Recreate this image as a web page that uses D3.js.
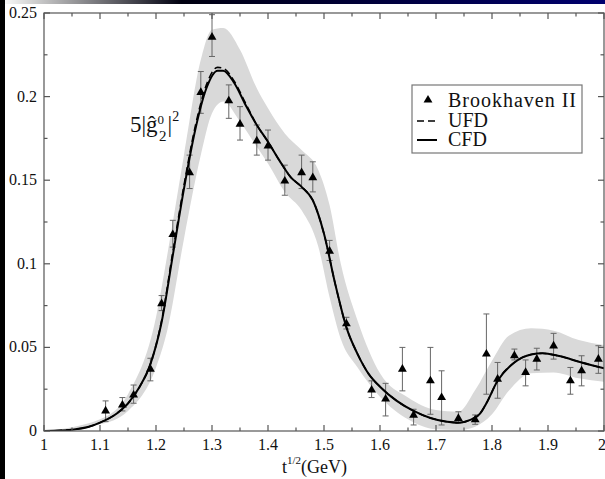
<!DOCTYPE html>
<html><head><meta charset="utf-8">
<script src="https://cdn.jsdelivr.net/npm/d3@7"></script>
<style>html,body{margin:0;padding:0;background:#000;}svg{display:block;}
text{font-family:"Liberation Serif","Tinos","Times New Roman","DejaVu Serif",serif;}</style>
</head><body>
<svg id="c" width="605" height="479"></svg>
<script>
// ---- data ----
const dataX   = [1.11,1.14,1.16,1.19,1.21,1.23,1.26,1.28,1.30,1.33,1.35,1.38,1.40,1.43,1.46,1.48,1.51,1.54,1.585,1.61,1.64,1.66,1.69,1.71,1.74,1.77,1.79,1.81,1.84,1.86,1.88,1.91,1.94,1.96,1.99];
const dataY   = [0.0125,0.016,0.022,0.0375,0.0766,0.118,0.155,0.203,0.236,0.198,0.184,0.174,0.171,0.150,0.155,0.152,0.108,0.0646,0.025,0.0196,0.0375,0.010,0.0305,0.0205,0.008,0.0072,0.0465,0.0315,0.0455,0.0355,0.0435,0.0514,0.0305,0.0365,0.0435];
const dataLo  = [0.0056,0.012,0.0166,0.030,0.072,0.110,0.145,0.190,0.224,0.187,0.174,0.165,0.162,0.141,0.145,0.143,0.102,0.061,0.020,0.009,0.024,0.0036,0.010,0.0036,0.0046,0.004,0.022,0.0196,0.0425,0.027,0.0365,0.043,0.022,0.027,0.0345];
const dataHi  = [0.018,0.020,0.0275,0.0435,0.081,0.126,0.165,0.215,0.249,0.207,0.194,0.183,0.180,0.159,0.165,0.161,0.114,0.068,0.030,0.0285,0.050,0.013,0.050,0.036,0.0115,0.0096,0.070,0.041,0.049,0.0425,0.0495,0.0584,0.038,0.045,0.051];

const cfdX = [1.00,1.05,1.08,1.10,1.13,1.15,1.17,1.19,1.21,1.23,1.25,1.27,1.29,1.31,1.32,1.34,1.36,1.38,1.40,1.42,1.44,1.46,1.48,1.50,1.52,1.54,1.56,1.58,1.60,1.63,1.66,1.69,1.72,1.74,1.76,1.78,1.79,1.81,1.84,1.87,1.89,1.92,1.96,2.00];
const cfdY = [0.0000,0.0008,0.0025,0.0050,0.0105,0.0165,0.026,0.040,0.065,0.105,0.145,0.180,0.205,0.2155,0.2155,0.208,0.195,0.183,0.173,0.162,0.152,0.146,0.138,0.118,0.088,0.062,0.046,0.034,0.0265,0.018,0.012,0.0078,0.0055,0.005,0.0065,0.011,0.0166,0.030,0.041,0.0458,0.0465,0.0448,0.041,0.0375];
const ufdX = [1.00,1.05,1.08,1.10,1.13,1.15,1.17,1.19,1.21,1.23,1.25,1.27,1.29,1.31,1.32,1.34,1.36,1.38,1.40,1.42,1.44,1.46,1.48,1.50,1.52,1.54,1.56,1.58,1.60,1.63,1.66,1.69,1.72,1.74,1.76,1.78,1.79,1.81,1.84,1.87,1.89,1.92,1.96,2.00];
const ufdY = [0.0000,0.0008,0.0025,0.0050,0.0105,0.0165,0.026,0.040,0.066,0.107,0.147,0.182,0.207,0.2175,0.217,0.209,0.196,0.183,0.173,0.162,0.152,0.146,0.138,0.118,0.088,0.062,0.046,0.034,0.0265,0.018,0.012,0.0078,0.0055,0.005,0.0065,0.011,0.0166,0.030,0.041,0.0458,0.0465,0.0448,0.041,0.0375];

const bandX  = [1.00,1.10,1.15,1.20,1.22,1.25,1.28,1.30,1.32,1.35,1.38,1.40,1.43,1.46,1.49,1.51,1.53,1.56,1.60,1.65,1.70,1.74,1.77,1.80,1.83,1.87,1.91,1.955,2.00];
const bandHi = [0,0.007,0.022,0.068,0.105,0.165,0.222,0.240,0.241,0.228,0.205,0.193,0.178,0.168,0.156,0.135,0.100,0.066,0.0345,0.020,0.0125,0.0115,0.0245,0.042,0.057,0.0614,0.060,0.0544,0.0514];
const bandLo = [0,0.004,0.012,0.038,0.060,0.115,0.165,0.190,0.197,0.185,0.170,0.160,0.143,0.132,0.110,0.080,0.055,0.038,0.0205,0.007,0.001,0.0006,0.0026,0.010,0.024,0.0345,0.035,0.0315,0.0295];

const xTicks = [1,1.1,1.2,1.3,1.4,1.5,1.6,1.7,1.8,1.9,2];
const xTickLabels = ["1","1.1","1.2","1.3","1.4","1.5","1.6","1.7","1.8","1.9","2"];
const yTicks = [0,0.05,0.1,0.15,0.2,0.25];
const yTickLabels = ["0","0.05","0.1","0.15","0.2","0.25"];
const legendLabels = ["Brookhaven II","UFD","CFD"];

// ---- drawing ----
const svg = d3.select("#c");
const W = 605, H = 479;
const defs = svg.append("defs");
const grad = defs.append("linearGradient").attr("id","topband").attr("x1","0").attr("x2","1");
grad.append("stop").attr("offset","0").attr("stop-color","#000").attr("stop-opacity",0);
grad.append("stop").attr("offset","0.3").attr("stop-color","#000010").attr("stop-opacity",1);
grad.append("stop").attr("offset","1").attr("stop-color","#00006e");

svg.append("rect").attr("width",W).attr("height",H).attr("fill","#000");
svg.append("rect").attr("x",5).attr("y",0).attr("width",W-5).attr("height",H).attr("fill","#fff");
svg.append("rect").attr("x",0).attr("y",0).attr("width",W).attr("height",4).attr("fill","url(#topband)");

const L = 44, R = 604, T = 13, B = 431;
const x = d3.scaleLinear().domain([1,2]).range([L,R]);
const y = d3.scaleLinear().domain([0,0.25]).range([B,T]);

const clip = defs.append("clipPath").attr("id","plot");
clip.append("rect").attr("x",L).attr("y",T).attr("width",R-L).attr("height",B-T);

const g = svg.append("g").attr("clip-path","url(#plot)");

// band
const band = bandX.map((v,i)=>({x:v,lo:bandLo[i],hi:bandHi[i]}));
g.append("path").datum(band)
  .attr("d", d3.area().curve(d3.curveMonotoneX).x(d=>x(d.x)).y0(d=>y(d.lo)).y1(d=>y(d.hi)))
  .attr("fill","#d9d9d9");

// error bars
const pts = dataX.map((v,i)=>({x:v,y:dataY[i],lo:dataLo[i],hi:dataHi[i]}));
const eb = g.append("g").attr("stroke","#666").attr("stroke-width",1).attr("fill","none");
pts.forEach(p=>{
  eb.append("line").attr("x1",x(p.x)).attr("x2",x(p.x)).attr("y1",y(p.lo)).attr("y2",y(p.hi));
  eb.append("line").attr("x1",x(p.x)-3).attr("x2",x(p.x)+3).attr("y1",y(p.lo)).attr("y2",y(p.lo));
  eb.append("line").attr("x1",x(p.x)-3).attr("x2",x(p.x)+3).attr("y1",y(p.hi)).attr("y2",y(p.hi));
});

// curves
const line = d3.line().curve(d3.curveMonotoneX).x(d=>x(d[0])).y(d=>y(d[1]));
g.append("path").datum(ufdX.map((v,i)=>[v,ufdY[i]])).attr("d",line)
  .attr("fill","none").attr("stroke","#000").attr("stroke-width",1.6).attr("stroke-dasharray","7,4");
g.append("path").datum(cfdX.map((v,i)=>[v,cfdY[i]])).attr("d",line)
  .attr("fill","none").attr("stroke","#000").attr("stroke-width",2);

// markers
const tri = d3.symbol().type(d3.symbolTriangle).size(34);
g.selectAll("path.m").data(pts).join("path").attr("class","m")
  .attr("d",tri).attr("transform",d=>`translate(${x(d.x)},${y(d.y)+0.8})`).attr("fill","#000");

// frame
svg.append("rect").attr("x",L).attr("y",T).attr("width",R-L).attr("height",B-T)
  .attr("fill","none").attr("stroke","#555").attr("stroke-width",1.2);

// ticks (inward on all sides)
const tk = svg.append("g").attr("stroke","#555").attr("stroke-width",1.2);
const xMinor = d3.range(0,21).map(i=>1+i*0.05);
xMinor.forEach((v,i)=>{
  const len = i%2===0 ? 6 : 3.5;
  tk.append("line").attr("x1",x(v)).attr("x2",x(v)).attr("y1",B).attr("y2",B-len);
  tk.append("line").attr("x1",x(v)).attr("x2",x(v)).attr("y1",T).attr("y2",T+len);
});
const yMinor = d3.range(0,11).map(i=>i*0.025);
yMinor.forEach((v,i)=>{
  const len = i%2===0 ? 6 : 3.5;
  tk.append("line").attr("x1",L).attr("x2",L+len).attr("y1",y(v)).attr("y2",y(v));
  tk.append("line").attr("x1",R).attr("x2",R-len).attr("y1",y(v)).attr("y2",y(v));
});

// tick labels
svg.append("g").selectAll("text").data(xTicks).join("text")
  .attr("x",d=>x(d)).attr("y",450).attr("text-anchor",d=>d===2?"end":"middle")
  .attr("dx",d=>d===2?2:0)
  .attr("font-size",16).attr("fill","#111")
  .text((d,i)=>xTickLabels[i]);
svg.append("g").selectAll("text").data(yTicks).join("text")
  .attr("x",37).attr("y",d=>y(d)+5).attr("text-anchor","end")
  .attr("font-size",16).attr("fill","#111")
  .text((d,i)=>yTickLabels[i]);

// x axis title
const xt = svg.append("text").attr("x",282).attr("y",473).attr("font-size",18).attr("fill","#111");
xt.append("tspan").text("t");
xt.append("tspan").attr("dy",-9).attr("font-size",11).text("1/2");
xt.append("tspan").attr("dy",9).text("(GeV)");

// y label inside the plot
const yl = svg.append("text").attr("x",130).attr("y",132).attr("font-size",23).attr("fill","#111");
yl.append("tspan").text("5|ĝ");
yl.append("tspan").attr("dy",-8).attr("font-size",13).text("0");
yl.append("tspan").attr("dy",17).attr("dx",-5).attr("font-size",15).text("2");
yl.append("tspan").attr("dy",-9).attr("dx",1).text("|");
yl.append("tspan").attr("dy",-11).attr("font-size",14).text("2");

// legend
const lg = svg.append("g");
lg.append("rect").attr("x",412).attr("y",85).attr("width",170).attr("height",68)
  .attr("fill","#fff").attr("stroke","#777").attr("stroke-width",1.2);
lg.append("path").attr("d",tri).attr("transform","translate(428,100)").attr("fill","#000");
lg.append("line").attr("x1",417).attr("x2",437).attr("y1",121).attr("y2",121)
  .attr("stroke","#000").attr("stroke-width",1.6).attr("stroke-dasharray","7,4");
lg.append("line").attr("x1",417).attr("x2",437).attr("y1",140).attr("y2",140)
  .attr("stroke","#000").attr("stroke-width",2);
lg.selectAll("text").data(legendLabels).join("text")
  .attr("x",448).attr("y",(d,i)=>[107,127,146][i])
  .attr("font-size",20).attr("textLength",(d,i)=>i===0?128:null)
  .attr("fill","#111").text(d=>d);
</script>
</body></html>
